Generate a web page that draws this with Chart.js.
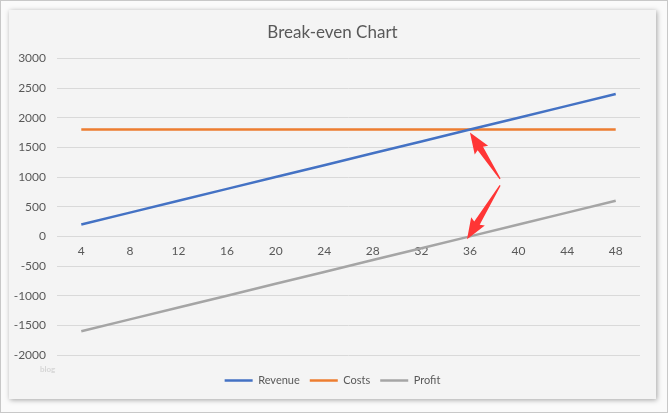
<!DOCTYPE html>
<html>
<head>
<meta charset="utf-8">
<script src="https://cdn.jsdelivr.net/npm/chart.js@4/dist/chart.umd.min.js"></script>
<style>
  html, body { margin: 0; padding: 0; }
  body { width: 668px; height: 413px; overflow: hidden; }
  .outer {
    position: relative; width: 666px; height: 411px;
    background: #fafafa; border: 1px solid #c8c8c8;
  }
  .panel {
    position: absolute; left: 8px; top: 9px; width: 647px; height: 389px;
    background: #f4f4f4;
    box-shadow: 1px 1px 5px rgba(0, 0, 0, 0.35);
  }
</style>
</head>
<body>
<div class="outer">
  <div class="panel"><canvas id="chart" width="647" height="389"></canvas></div>
</div>
<script>
// 数据
const labels = [4, 8, 12, 16, 20, 24, 28, 32, 36, 40, 44, 48];
const revenue = [200, 400, 600, 800, 1000, 1200, 1400, 1600, 1800, 2000, 2200, 2400];
const costs = [1800, 1800, 1800, 1800, 1800, 1800, 1800, 1800, 1800, 1800, 1800, 1800];
const profit = [-1600, -1400, -1200, -1000, -800, -600, -400, -200, 0, 200, 400, 600];

// 箭头：[尾部x索引, 尾部值, 箭头x索引, 箭头值]
const arrows = [
  [8.62, 970, 8.0, 1750],
  [8.62, 860, 7.94, -50]
];

const textColor = '#595959';
const gridColor = '#d9d9d9';
const font = 'Lato';

// 画红色箭头
const arrowPlugin = {
  id: 'arrows',
  afterDatasetsDraw(chart) {
    const ctx = chart.ctx;
    const x = chart.scales.x;
    const y = chart.scales.y;
    ctx.save();
    ctx.fillStyle = '#ff3535';
    arrows.forEach(a => {
      const tx = x.getPixelForValue(a[0]), ty = y.getPixelForValue(a[1]);
      const px = x.getPixelForValue(a[2]), py = y.getPixelForValue(a[3]);
      const len = Math.hypot(px - tx, py - ty);
      const ux = (px - tx) / len, uy = (py - ty) / len;
      const nx = -uy, ny = ux;
      const hl = 19, hw = 8, sw = 3.2, tw = 0.6;
      const bx = px - ux * hl, by = py - uy * hl;
      ctx.beginPath();
      ctx.moveTo(tx + nx * tw, ty + ny * tw);
      ctx.lineTo(bx + nx * sw, by + ny * sw);
      ctx.lineTo(bx + nx * hw - ux * 2, by + ny * hw - uy * 2);
      ctx.lineTo(px, py);
      ctx.lineTo(bx - nx * hw - ux * 2, by - ny * hw - uy * 2);
      ctx.lineTo(bx - nx * sw, by - ny * sw);
      ctx.lineTo(tx - nx * tw, ty - ny * tw);
      ctx.closePath();
      ctx.fill();
    });
    // 水印
    ctx.fillStyle = '#d6d6d6';
    ctx.font = 'bold 8px ' + font;
    ctx.textBaseline = 'middle';
    ctx.fillText('blog', 31, 359);
    ctx.restore();
  }
};

const lineSet = (label, data, color) => ({
  label: label,
  data: data,
  borderColor: color,
  backgroundColor: color,
  borderWidth: 2.5,
  pointRadius: 0,
  tension: 0,
  fill: false
});

new Chart(document.getElementById('chart'), {
  type: 'line',
  data: {
    labels: labels,
    datasets: [
      lineSet('Revenue', revenue, '#4472c4'),
      lineSet('Costs', costs, '#ed7d31'),
      lineSet('Profit', profit, '#a5a5a5')
    ]
  },
  options: {
    responsive: false,
    animation: false,
    layout: { padding: { left: 0, right: 0, top: 0, bottom: 3 } },
    scales: {
      x: {
        position: { y: 0 },
        offset: true,
        grid: { display: false, drawTicks: false },
        border: { display: true, color: gridColor, width: 1 },
        ticks: { color: textColor, font: { family: font, size: 12 }, padding: 8, maxRotation: 0 }
      },
      // 占位轴，只用来留出空白
      x2: {
        type: 'category',
        labels: labels,
        position: 'bottom',
        grid: { display: false },
        border: { display: false },
        ticks: { display: false },
        afterFit(s) { s.height = 10; }
      },
      y: {
        min: -2000,
        max: 3000,
        ticks: {
          stepSize: 500, color: textColor, font: { family: font, size: 12 }, padding: 11,
          callback: v => String(v)
        },
        grid: { color: gridColor, drawTicks: false },
        border: { display: false },
        afterFit(s) { s.width = 48; }
      },
      y2: {
        type: 'linear',
        position: 'right',
        grid: { display: false },
        border: { display: false },
        ticks: { display: false },
        afterFit(s) { s.width = 16; }
      }
    },
    plugins: {
      title: {
        display: true,
        text: 'Break-even Chart',
        color: textColor,
        font: { family: font, size: 17, weight: 'normal' },
        padding: { top: 12, bottom: 16 }
      },
      legend: {
        position: 'bottom',
        labels: {
          boxWidth: 28,
          boxHeight: 0,
          padding: 10,
          color: textColor,
          font: { family: font, size: 11 }
        }
      },
      tooltip: { enabled: false }
    }
  },
  plugins: [arrowPlugin]
});
</script>
</body>
</html>
